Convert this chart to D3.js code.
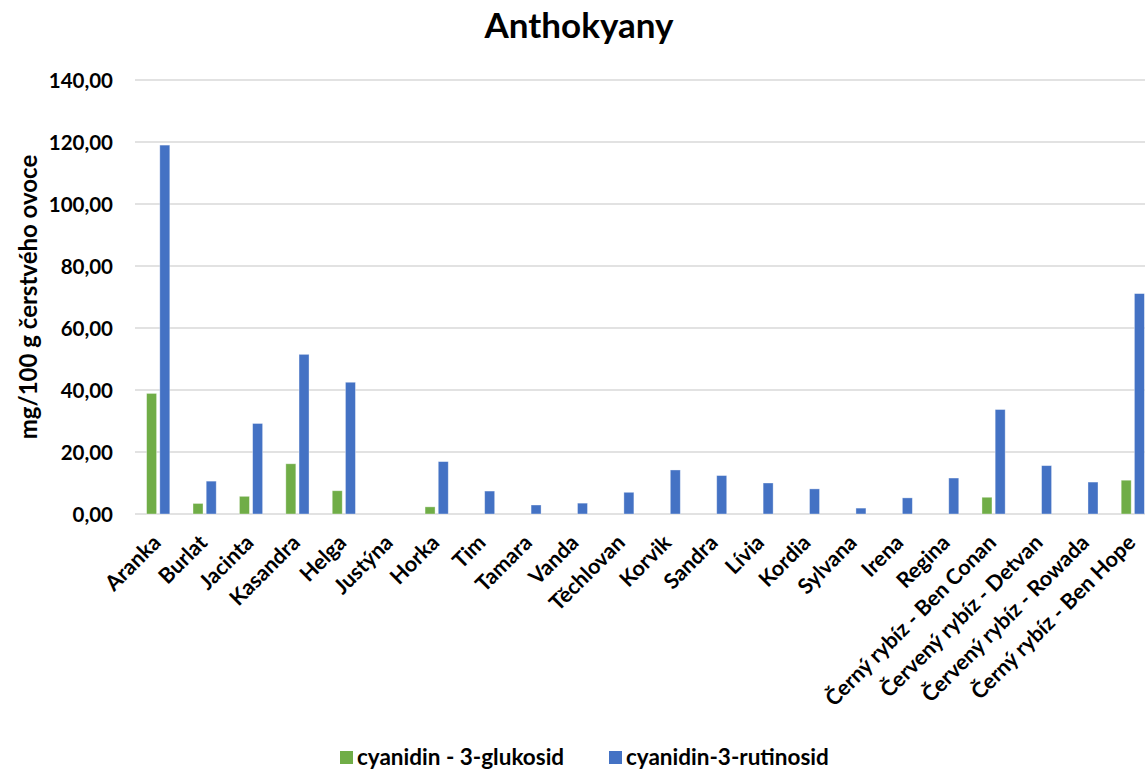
<!DOCTYPE html>
<html>
<head>
<meta charset="utf-8">
<script src="https://cdn.jsdelivr.net/npm/d3@7"></script>
<style>
  html, body { margin: 0; padding: 0; background: #fff; }
  svg { display: block; font-family: Lato, "Open Sans", sans-serif; }
</style>
</head>
<body>
<svg id="chart" width="1145" height="769"></svg>
<script>
// Odrůdy (kategorie na ose x)
const categories = [
  "Aranka", "Burlat", "Jacinta", "Kasandra", "Helga", "Justýna", "Horka",
  "Tim", "Tamara", "Vanda", "Těchlovan", "Korvik", "Sandra", "Lívia",
  "Kordia", "Sylvana", "Irena", "Regina", "Černý rybíz - Ben Conan",
  "Červený rybíz - Detvan", "Červený rybíz - Rowada", "Černý rybíz - Ben Hope"
];

// Série (mg/100 g čerstvého ovoce); null = nestanoveno
const seriesNames = ["cyanidin - 3-glukosid", "cyanidin-3-rutinosid"];
const glukosid = [38.9, 3.4, 5.7, 16.2, 7.5, null, 2.3, null, null, null, null,
  null, null, null, null, null, null, null, 5.4, null, null, 10.9];
const rutinosid = [119.0, 10.6, 29.2, 51.5, 42.5, null, 16.9, 7.4, 2.9, 3.5, 7.0,
  14.2, 12.4, 10.0, 8.1, 1.9, 5.2, 11.6, 33.7, 15.6, 10.3, 71.1];

const yTicks = [0, 20, 40, 60, 80, 100, 120, 140];
const seriesColors = ["#70ad47", "#4472c4"];

const svg = d3.select("#chart");
const plot = { left: 135, right: 1156, top: 80, bottom: 514 };

const x = d3.scaleBand().domain(categories).range([plot.left, plot.right]).padding(0);
const y = d3.scaleLinear().domain([0, 140]).range([plot.bottom, plot.top]);
const fmt = v => d3.format(".2f")(v).replace(".", ",");

// Mřížka
svg.append("g")
  .selectAll("line")
  .data(yTicks)
  .join("line")
  .attr("x1", plot.left).attr("x2", plot.right)
  .attr("y1", d => y(d)).attr("y2", d => y(d))
  .attr("stroke", "#d9d9d9").attr("stroke-width", 1.5);

// Popisky osy y
const yAxis = d3.axisLeft(y).tickValues(yTicks).tickFormat(fmt).tickSize(0).tickPadding(0);
const gy = svg.append("g").attr("transform", `translate(113,0)`).call(yAxis);
gy.select(".domain").remove();
gy.selectAll("text")
  .attr("font-family", "Lato, sans-serif")
  .attr("font-size", 20.5).attr("font-weight", "bold").attr("fill", "#000")
  .attr("dy", "0.36em");

// Sloupce
const barW = 10;
const offsets = [-11.6, 1.6];
const series = [glukosid, rutinosid];
series.forEach((vals, si) => {
  svg.append("g")
    .selectAll("rect")
    .data(categories.map((c, i) => ({ c, v: vals[i] })).filter(d => d.v != null))
    .join("rect")
    .attr("x", d => x(d.c) + x.bandwidth() / 2 + offsets[si])
    .attr("width", barW)
    .attr("y", d => y(d.v))
    .attr("height", d => y(0) - y(d.v))
    .attr("fill", seriesColors[si])
    .attr("stroke", "#ffffff").attr("stroke-opacity", 0.45).attr("stroke-width", 0.8);
});

// Popisky osy x
const xAxis = d3.axisBottom(x).tickSize(0).tickPadding(0);
const gx = svg.append("g").attr("transform", `translate(0,${plot.bottom})`).call(xAxis);
gx.select(".domain").remove();
gx.selectAll(".tick text")
  .attr("font-family", "Lato, sans-serif")
  .attr("font-size", 21.5).attr("font-weight", "bold").attr("fill", "#000")
  .attr("text-anchor", "end")
  .attr("dy", 0).attr("y", 0)
  .attr("transform", "translate(4,30) rotate(-45)");

// Nadpis
svg.append("text")
  .attr("x", 579).attr("y", 38)
  .attr("text-anchor", "middle")
  .attr("font-size", 35).attr("font-weight", "bold")
  .text("Anthokyany");

// Název osy y
svg.append("text")
  .attr("transform", `translate(37,${(plot.top + plot.bottom) / 2}) rotate(-90)`)
  .attr("text-anchor", "middle")
  .attr("font-size", 24).attr("font-weight", "bold")
  .text("mg/100 g čerstvého ovoce");

// Legenda
const legendX = [340, 609];
const lg = svg.append("g");
seriesNames.forEach((name, i) => {
  lg.append("rect")
    .attr("x", legendX[i]).attr("y", 751)
    .attr("width", 13).attr("height", 13)
    .attr("fill", seriesColors[i]);
  lg.append("text")
    .attr("x", legendX[i] + 17).attr("y", 765)
    .attr("font-size", 22.5).attr("font-weight", "bold")
    .text(name);
});
</script>
</body>
</html>
